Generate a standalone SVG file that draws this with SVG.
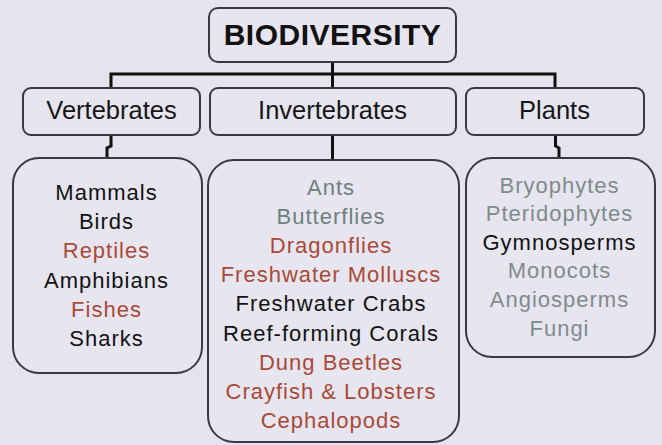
<svg xmlns="http://www.w3.org/2000/svg" width="662" height="445" viewBox="0 0 662 445">
<style>
.box{fill:#e6e5f0;stroke:#3a3a3e;stroke-width:2}
.con{fill:none;stroke:#111;stroke-width:3}
.h{font-family:"Liberation Sans",Arial,sans-serif;font-size:25.5px;fill:#161618;text-anchor:middle}
.t{font-family:"Liberation Sans",Arial,sans-serif;font-size:22px;letter-spacing:1px;text-anchor:middle}
.k{fill:#121214}
.r{fill:#a94a38}
.g{fill:#6f807e}
.gg{fill:#7f8c8c}
</style>
<rect width="662" height="445" fill="#e4e3ee"/>
<g id="connectors" class="con">
<path d="M332.5 62 V74 M111 74 H555 M111 72.5 V88 M332.5 74 V88 M555 72.5 V88"/>
<path d="M111 135 V146 L107 148 V159"/>
<path d="M332.5 135 V161"/>
<path d="M555.5 135 V146 L559 148 V159"/>
</g>
<g id="biodiversity">
<rect class="box" x="209" y="8" width="247" height="54" rx="9"/>
<text x="332.5" y="45" font-family="'Liberation Sans',Arial,sans-serif" font-weight="bold" font-size="30" letter-spacing="0.5" text-anchor="middle" fill="#111">BIODIVERSITY</text>
</g>
<g id="vertebrates">
<rect class="box" x="23" y="88" width="177" height="47" rx="8"/>
<text class="h" x="111.5" y="119">Vertebrates</text>
</g>
<g id="invertebrates">
<rect class="box" x="210" y="88" width="246" height="47" rx="8"/>
<text class="h" x="332.5" y="119">Invertebrates</text>
</g>
<g id="plants">
<rect class="box" x="466" y="88" width="178" height="47" rx="8"/>
<text class="h" x="554.5" y="119">Plants</text>
</g>
<g id="vertebrates-list">
<rect class="box" x="13" y="158" width="189" height="215" rx="26"/>
<text class="t k" x="106.5" y="200">Mammals</text>
<text class="t k" x="106.5" y="229">Birds</text>
<text class="t r" x="106.5" y="258">Reptiles</text>
<text class="t k" x="106.5" y="288">Amphibians</text>
<text class="t r" x="106.5" y="317">Fishes</text>
<text class="t k" x="106.5" y="346">Sharks</text>
</g>
<g id="invertebrates-list">
<rect class="box" x="208" y="160" width="251" height="282" rx="26"/>
<text class="t g" x="331" y="195">Ants</text>
<text class="t g" x="331" y="224" fill="#6a8680">Butterflies</text>
<text class="t r" x="331" y="253">Dragonflies</text>
<text class="t r" x="331" y="282">Freshwater Molluscs</text>
<text class="t k" x="331" y="311">Freshwater Crabs</text>
<text class="t k" x="331" y="341">Reef-forming Corals</text>
<text class="t r" x="331" y="370">Dung Beetles</text>
<text class="t r" x="331" y="399">Crayfish &amp; Lobsters</text>
<text class="t r" x="331" y="428">Cephalopods</text>
</g>
<g id="plants-list">
<rect class="box" x="466" y="158" width="189" height="199" rx="26"/>
<text class="t gg" x="559.5" y="193">Bryophytes</text>
<text class="t gg" x="559.5" y="221">Pteridophytes</text>
<text class="t k" x="559.5" y="250">Gymnosperms</text>
<text class="t gg" x="559.5" y="278">Monocots</text>
<text class="t gg" x="559.5" y="307">Angiosperms</text>
<text class="t gg" x="559.5" y="336">Fungi</text>
</g>
</svg>
